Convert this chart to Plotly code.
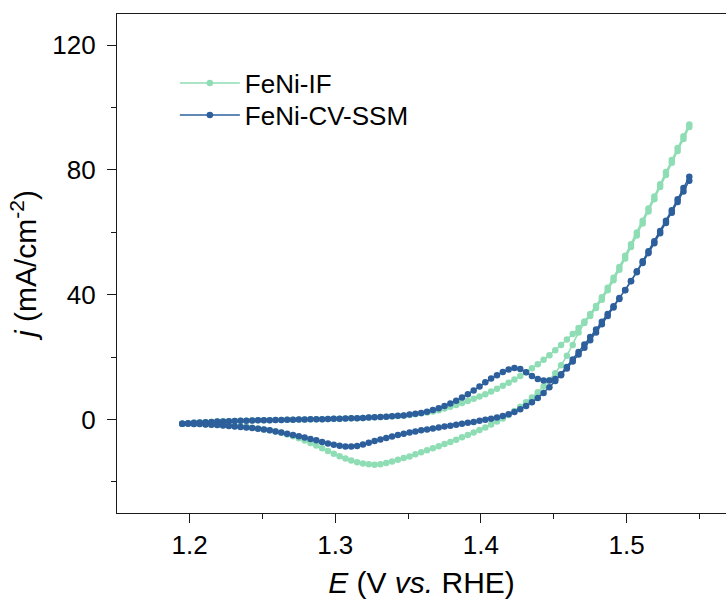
import plotly.graph_objects as go

E = [1.195, 1.199, 1.203, 1.207, 1.211, 1.215, 1.219, 1.223, 1.227, 1.231,
     1.235, 1.239, 1.243, 1.247, 1.251, 1.255, 1.259, 1.263, 1.267, 1.271,
     1.275, 1.279, 1.283, 1.287, 1.291, 1.295, 1.299, 1.303, 1.307, 1.311,
     1.315, 1.319, 1.323, 1.327, 1.331, 1.335, 1.339, 1.343, 1.347, 1.351,
     1.355, 1.359, 1.363, 1.367, 1.371, 1.375, 1.379, 1.383, 1.387, 1.391,
     1.395, 1.399, 1.403, 1.407, 1.411, 1.415, 1.419, 1.423, 1.427, 1.431,
     1.435, 1.439, 1.443, 1.447, 1.451, 1.455, 1.459, 1.463, 1.467, 1.471,
     1.475, 1.479, 1.483, 1.487, 1.491, 1.495, 1.499, 1.503, 1.507, 1.511,
     1.515, 1.519, 1.523, 1.527, 1.531, 1.535, 1.539, 1.543]

# FeNi-IF, anodic (forward) scan current density, mA/cm^2
ifFwd = [-1.4, -1.2, -1.1, -1.0, -0.9, -0.8, -0.7, -0.6, -0.55, -0.5,
         -0.45, -0.4, -0.35, -0.3, -0.3, -0.25, -0.2, -0.15, -0.1, -0.1,
         -0.05, 0.0, 0.05, 0.1, 0.1, 0.15, 0.2, 0.25, 0.3, 0.35,
         0.4, 0.5, 0.6, 0.7, 0.8, 0.9, 1.0, 1.1, 1.3, 1.45,
         1.7, 1.95, 2.2, 2.55, 2.95, 3.5, 4.05, 4.65, 5.3, 5.95,
         6.65, 7.35, 8.1, 8.95, 9.8, 10.8, 11.75, 12.8, 13.9, 15.1,
         16.4, 17.7, 19.1, 20.6, 22.2, 23.9, 25.6, 27.4, 29.3, 31.4,
         33.8, 36.4, 39.2, 42.2, 45.4, 48.9, 52.5, 56.2, 59.9, 63.7,
         67.6, 71.5, 75.4, 79.3, 83.2, 87.0, 90.8, 94.6]

# FeNi-IF, cathodic (return) scan, listed at ascending potential
ifRev = [-1.4, -1.4, -1.45, -1.5, -1.6, -1.7, -1.8, -1.9, -2.0, -2.15,
         -2.3, -2.45, -2.7, -2.9, -3.2, -3.5, -3.8, -4.25, -4.8, -5.4,
         -6.05, -6.75, -7.55, -8.35, -9.2, -10.1, -11.0, -11.8, -12.5, -13.15,
         -13.7, -14.1, -14.4, -14.5, -14.35, -14.0, -13.5, -12.95, -12.4, -11.85,
         -11.2, -10.55, -9.9, -9.25, -8.6, -7.9, -7.2, -6.5, -5.75, -5.0,
         -4.2, -3.4, -2.55, -1.65, -0.7, 0.3, 1.4, 2.7, 4.05, 5.5,
         7.05, 8.75, 10.55, 12.55, 14.8, 17.4, 20.4, 23.9, 27.9, 30.9,
         33.2, 35.7, 38.4, 41.4, 44.6, 48.0, 51.6, 55.3, 59.0, 62.8,
         66.7, 70.6, 74.5, 78.4, 82.3, 86.1, 89.9, 93.8]

# FeNi-CV-SSM, anodic (forward) scan
ssmFwd = [-1.4, -1.25, -1.1, -1.0, -0.9, -0.8, -0.7, -0.65, -0.55, -0.5,
          -0.45, -0.4, -0.35, -0.3, -0.3, -0.25, -0.2, -0.15, -0.1, -0.1,
          -0.05, 0.0, 0.05, 0.1, 0.1, 0.15, 0.2, 0.25, 0.3, 0.35,
          0.4, 0.5, 0.6, 0.7, 0.8, 0.9, 1.0, 1.15, 1.3, 1.55,
          1.8, 2.1, 2.5, 3.0, 3.6, 4.3, 5.1, 6.0, 7.0, 8.1,
          9.3, 10.6, 11.9, 13.1, 14.2, 15.2, 16.0, 16.5, 16.2, 15.1,
          13.9, 13.0, 12.5, 12.5, 13.0, 14.2, 16.3, 18.6, 20.8, 23.0,
          25.4, 27.9, 30.5, 33.2, 35.9, 38.6, 41.4, 44.4, 47.5, 50.7,
          53.9, 57.1, 60.4, 63.7, 67.1, 70.6, 74.2, 77.8]

# FeNi-CV-SSM, cathodic (return) scan, listed at ascending potential
ssmRev = [-1.4, -1.4, -1.45, -1.5, -1.6, -1.7, -1.8, -1.95, -2.1, -2.25,
          -2.4, -2.55, -2.75, -2.95, -3.2, -3.5, -3.85, -4.2, -4.6, -5.0,
          -5.4, -5.8, -6.25, -6.7, -7.2, -7.7, -8.1, -8.45, -8.65, -8.7,
          -8.5, -8.05, -7.5, -6.95, -6.45, -5.95, -5.45, -5.0, -4.6, -4.2,
          -3.85, -3.5, -3.2, -2.9, -2.6, -2.3, -2.0, -1.7, -1.4, -1.1,
          -0.8, -0.45, -0.1, 0.25, 0.65, 1.1, 1.7, 2.4, 3.3, 4.3,
          5.5, 6.9, 8.5, 10.3, 12.3, 14.5, 16.8, 19.2, 21.6, 24.0,
          26.4, 28.8, 31.3, 33.8, 36.3, 38.9, 41.5, 44.3, 47.2, 50.2,
          53.3, 56.5, 59.7, 63.0, 66.3, 69.7, 73.1, 76.5]

seriesNames = ["FeNi-IF", "FeNi-CV-SSM"]
xTicks = [1.2, 1.3, 1.4, 1.5]
yTicks = [0, 40, 80, 120]

GREEN = "#8FDDB4"
BLUE = "#2C5F9B"
FONT = "Liberation Sans, Arial, sans-serif"
AX = "#1a1a1a"

fig = go.Figure()
for name, fwd, rev, col, lg in [(seriesNames[0], ifFwd, ifRev, GREEN, "legend"),
                                (seriesNames[1], ssmFwd, ssmRev, BLUE, "legend2")]:
    fig.add_trace(go.Scatter(
        x=E + E[::-1], y=fwd + rev[::-1], name=name, legend=lg,
        mode="lines+markers",
        line=dict(color=col, width=1.5),
        marker=dict(color=col, size=6.5, line=dict(width=0)),
    ))

tickfont = dict(family=FONT, size=26, color="#000")
legfont = dict(family=FONT, size=26, color="#000")
titlefont = dict(family=FONT, size=30, color="#000")
fig.update_layout(
    width=726, height=601,
    margin=dict(l=117, r=0, t=14, b=88),
    paper_bgcolor="white", plot_bgcolor="white",
    showlegend=True,
    legend=dict(x=0.095, y=(513 - 83) / 499, xanchor="left", yanchor="middle",
                bgcolor="rgba(0,0,0,0)", font=legfont, itemwidth=60),
    legend2=dict(x=0.095, y=(513 - 115) / 499, xanchor="left", yanchor="middle",
                 bgcolor="rgba(0,0,0,0)", font=legfont, itemwidth=60),
    xaxis=dict(
        range=[1.1502, 1.5682], tickvals=xTicks, ticktext=[str(v) for v in xTicks],
        showgrid=False, zeroline=False, showline=True, mirror=True, automargin=False,
        linecolor=AX, linewidth=1.3, ticks="outside", ticklen=9, tickwidth=1.3, tickcolor=AX,
        tickfont=tickfont,
        minor=dict(dtick=0.05, tick0=1.15, ticks="outside", ticklen=4.5, tickwidth=1.3, tickcolor=AX, showgrid=False),
        title=dict(text="<i>E</i> (V <i>vs.</i> RHE)", font=titlefont, standoff=12),
    ),
    yaxis=dict(
        range=[-30, 130], tickvals=yTicks, ticktext=[str(v) for v in yTicks],
        showgrid=False, zeroline=False, showline=True, mirror=False, automargin=True,
        linecolor=AX, linewidth=1.3, ticks="outside", ticklen=9, tickwidth=1.3, tickcolor=AX,
        tickfont=tickfont, ticklabelstandoff=6,
        minor=dict(dtick=20, tick0=0, ticks="outside", ticklen=4.5, tickwidth=1.3, tickcolor=AX, showgrid=False),
        title=dict(text="<i>j</i> (mA/cm<sup>-2</sup>)", font=titlefont, standoff=6),
    ),
)

fig.write_html("out.html", config={"displayModeBar": False},
               post_script="document.body.style.margin='0';document.body.style.padding='0';")
